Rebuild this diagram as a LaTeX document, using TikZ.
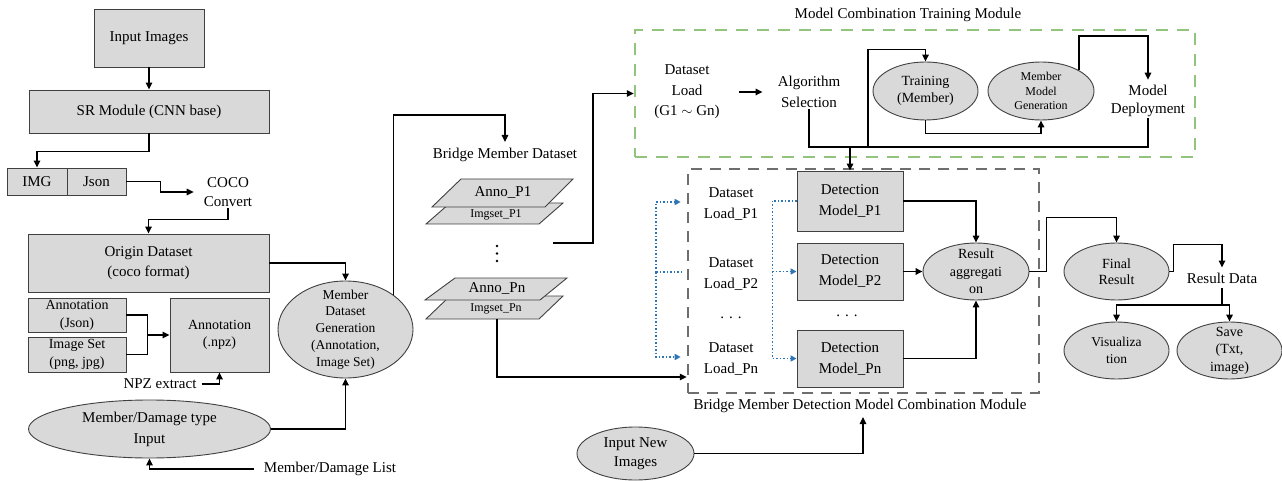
\documentclass[tikz,border=0pt]{standalone}
\usepackage{fontspec}
\setmainfont{Liberation Serif}
\usetikzlibrary{shapes.geometric,arrows.meta,calc}

\definecolor{boxfill}{HTML}{D9D9D9}
\definecolor{boxline}{HTML}{404040}
\definecolor{trainline}{HTML}{93C47D}
\definecolor{detline}{HTML}{6E6E6E}
\definecolor{blueline}{HTML}{2E75B6}

\newcommand{\fsz}[2]{\fontsize{#1}{#2}\selectfont}

\tikzset{
  box/.style={draw=boxline, fill=boxfill, line width=0.9pt, inner sep=0pt, align=center},
  oval/.style={ellipse, draw=boxline, fill=boxfill, line width=0.9pt, inner sep=0pt},
  ovaltext/.style={align=center, inner sep=0pt},
  txt/.style={align=center, inner sep=1pt},
  conn/.style={draw=black, line width=1.5pt, -{Triangle[length=7pt,width=6.5pt]}},
  link/.style={draw=black, line width=1.5pt},
  dotline/.style={draw=blueline, line width=1.5pt, dotted},
  dotarrow/.style={dotline, -{Triangle[length=6pt,width=6pt]}, blueline},
  stack/.style={draw=boxline, fill=boxfill, line width=0.9pt},
  trainbox/.style={draw=trainline, line width=2.5pt, dash pattern=on 12pt off 9pt, inner sep=0pt},
  detbox/.style={draw=detline, line width=2.5pt, dash pattern=on 11pt off 8pt, inner sep=0pt},
}

\begin{document}
\begin{tikzpicture}[x=1pt, y=-1pt, font={\fsz{15}{20.5}}]
\useasboundingbox (0,0) rectangle (1282,481);

% module frames
\node[trainbox, minimum width=560, minimum height=127] (train) at (915,93.5) {};
\node[detbox, minimum width=351, minimum height=224] (det) at (863.5,281) {};
\node[txt] (trainlabel) at (908,15) {Model Combination Training Module};
\node[txt] (detlabel) at (860,406) {Bridge Member Detection Model Combination Module};

% ---------------- preprocessing column ----------------
\node[box, minimum width=110, minimum height=58] (inimg) at (149,38) {Input Images};
\node[box, minimum width=240, minimum height=43] (sr) at (149,111.5) {SR Module (CNN base)};
\node[box, minimum width=60, minimum height=27] (img) at (37,181.5) {IMG};
\node[box, minimum width=59, minimum height=27] (json) at (96.5,181.5) {Json};
\node[txt, font={\fsz{15}{19}}] (coco) at (228,192) {COCO\\Convert};
\node[box, minimum width=241, minimum height=58] (origin) at (148.5,263) {Origin Dataset\\(coco format)};
\node[box, minimum width=98, minimum height=34, font={\fsz{14}{18}}] (annjson) at (77,315) {Annotation\\(Json)};
\node[box, minimum width=98, minimum height=35, font={\fsz{14}{17.5}}] (imgset) at (77,354.5) {Image Set\\(png, jpg)};
\node[box, minimum width=99, minimum height=74, font={\fsz{14}{17.5}}] (annnpz) at (219.5,335) {Annotation\\(.npz)};
\node[txt] (npz) at (160,384) {NPZ extract};
\node[oval, minimum width=242, minimum height=58,
      label={[ovaltext, font={\fsz{15}{21}}]center:{Member/Damage type\\Input}}] (mdinput) at (149.5,429) {};
\node[txt] (mdlist) at (330,469) {Member/Damage List};
\node[oval, minimum width=135, minimum height=97,
      label={[ovaltext, font={\fsz{13.5}{16.8}}]center:{Member\\Dataset\\Generation\\(Annotation,\\Image Set)}}] (mdg) at (345.5,329.5) {};

\draw[conn] (inimg) -- (sr);
\draw[conn] (sr.south) -- ++(0,18) -| (img.north);
\draw[conn] (json.east) -- ++(34,0) |- ($(coco.west)+(-9,0)$);
\draw[conn] (coco.south) -- ++(0,12) -| (origin.north);
\draw[conn] (origin.east) -| (mdg.north);
\draw[link] (annjson.east) -- ++(21,0) |- (imgset.east);
\draw[conn] ($(annjson.east)+(21,0)$) |- (annnpz.west);
\draw[conn] ($(npz.east)+(4,0)$) -| (annnpz.south);
\draw[conn] (mdinput.east) -| (mdg.south);
\draw[conn] ($(mdlist.west)+(-9,0)$) -| (mdinput.south);

% ---------------- bridge member dataset ----------------
\node[txt] (bmd) at (505,155) {Bridge Member Dataset};
\draw[conn] (mdg.north east) -- ++(0,-180) -| ($(bmd.north)+(0,-5)$);

\path[stack] (426,224) -- (539,224) -- (563,203) -- (450,203) -- cycle;
\node[txt, font={\fsz{12}{14}}] (imgp1) at (496,214.5) {Imgset\_P1};
\path[stack] (432,207) -- (545,207) -- (573,179) -- (461,179) -- cycle;
\node[txt] (annop1) at (503,193) {Anno\_P1};

\foreach \yy in {246,253.5,261} \fill (497,\yy) circle (1.3);

\path[stack] (426,319) -- (539,319) -- (563,296) -- (450,296) -- cycle;
\node[txt, font={\fsz{12}{14}}] (imgpn) at (496,308.5) {Imgset\_Pn};
\path[stack] (425,300) -- (540,300) -- (567,278) -- (455,278) -- cycle;
\node[txt] (annopn) at (497,289) {Anno\_Pn};

\coordinate (stackout) at (553,243);
\coordinate (imgpnb) at (497,319);
\draw[conn] (stackout) -- ++(40,0) |- (train.west);
\draw[conn] (imgpnb) |- ($(det.west)+(0,96)$);

% ---------------- model combination training ----------------
\node[txt] (dsload) at (687,92) {Dataset\\Load\\(G1 $\sim$ Gn)};
\node[txt] (algsel) at (809,92) {Algorithm\\Selection};
\node[oval, minimum width=105, minimum height=58,
      label={[ovaltext, font={\fsz{14}{17}}]center:{Training\\(Member)}}] (training) at (925.5,91) {};
\node[oval, minimum width=106, minimum height=58,
      label={[ovaltext, font={\fsz{12}{14.5}}]center:{Member\\Model\\Generation}}] (mmg) at (1041,91) {};
\node[txt, font={\fsz{15}{18.5}}] (deploy) at (1148,101) {Model\\Deployment};

\coordinate (bus) at (868,147);
\draw[conn, shorten <=18pt, shorten >=14pt] (dsload) -- (algsel);
\draw[conn] (algsel.south) |- (bus) |- ($(training.north)+(0,-12)$) -- (training.north);
\draw[conn] (training.south) -- ++(0,13) -| (mmg.south);
\draw[conn] (mmg.north east) -- ++(0,-34) -| ($(deploy.north)+(0,-4)$);

% ---------------- detection model combination ----------------
\node[txt, font={\fsz{15}{21}}] (dl1) at (731,204) {Dataset\\Load\_P1};
\node[txt, font={\fsz{15}{21}}] (dl2) at (731,274) {Dataset\\Load\_P2};
\node[txt] (dldots) at (731,318) {. . .};
\node[txt, font={\fsz{15}{21}}] (dln) at (731,359) {Dataset\\Load\_Pn};

\node[box, minimum width=106, minimum height=60, font={\fsz{15}{21}}] (dm1) at (850,201) {Detection\\Model\_P1};
\node[box, minimum width=106, minimum height=57, font={\fsz{15}{21}}] (dm2) at (850,271.5) {Detection\\Model\_P2};
\node[txt] (dmdots) at (847,316) {. . .};
\node[box, minimum width=106, minimum height=57, font={\fsz{15}{21}}] (dmn) at (850,358.5) {Detection\\Model\_Pn};
\node[oval, minimum width=106, minimum height=57,
      label={[ovaltext, font={\fsz{14}{17.5}}]center:{Result\\aggregati\\on}}] (agg) at (976,271.5) {};

\draw[conn] (deploy.south) |- (dm1.north |- bus) -- (dm1.north);

\draw[conn] (dm1.east) -| (agg.north);
\draw[conn] (dm2) -- (agg);
\draw[conn] (dmn.east) -| (agg.south);

\coordinate (bluein) at (682,272);
\coordinate (bsplit) at (656,272);
\draw[dotline] (bluein) -- (bsplit);
\draw[dotarrow] (bsplit) |- ($(dl1.west)+(-22,-2)$);
\draw[dotarrow] (bsplit) |- ($(dln.west)+(-22,-2)$);

\draw[dotline] (dm1.west) -- ++(-24,0);
\draw[dotarrow] ($(dm1.west)+(-24,0)$) |- (dm2.west);
\draw[dotarrow] ($(dm1.west)+(-24,0)$) |- (dmn.west);

\node[oval, minimum width=117, minimum height=53,
      label={[ovaltext, font={\fsz{15}{19}}]center:{Input New\\Images}}] (newimg) at (635.5,453.5) {};
\draw[conn] (newimg.east) -| ($(detlabel.south)+(3,3)$);

% ---------------- results ----------------
\node[oval, minimum width=105, minimum height=57,
      label={[ovaltext, font={\fsz{14}{16.5}}]center:{Final\\Result}}] (final) at (1116.5,271.5) {};
\node[txt, inner ysep=5pt] (resdata) at (1222,278) {Result Data};
\node[oval, minimum width=105, minimum height=57,
      label={[ovaltext, font={\fsz{13.5}{16.5}}]center:{Visualiza\\tion}}] (vis) at (1116.5,350.5) {};
\node[oval, minimum width=105, minimum height=57,
      label={[ovaltext, font={\fsz{14}{17.5}}]center:{Save\\(Txt,\\image)}}] (save) at (1229.5,350.5) {};

\draw[conn] (agg.east) -- ++(17,0) |- ($(final.north)+(0,-25)$) -- (final.north);
\draw[conn] (final.east) -- ++(4,0) |- ($(resdata.north)+(0,-23)$) -- (resdata.north);
\coordinate (rsplit) at (1222,305);
\draw[link] (resdata.south) -- (rsplit);
\draw[conn] (rsplit) -| (vis.north);
\draw[conn] (rsplit) -| (save.north);
\end{tikzpicture}
\end{document}
